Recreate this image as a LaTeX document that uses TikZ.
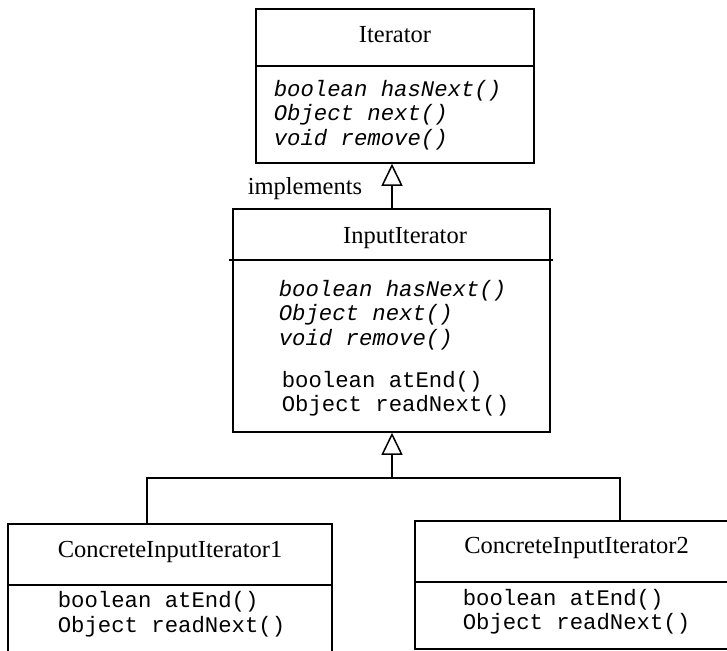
\documentclass[tikz,border=0pt]{standalone}
\usepackage{fontspec}
\setmainfont{Liberation Serif}
\setmonofont{Liberation Mono}
\usetikzlibrary{arrows.meta}
\begin{document}
\begin{tikzpicture}[x=1pt,y=-1pt,
  line width=1.5pt,
  box/.style={draw=black, line width=1.5pt, rectangle, inner sep=0pt},
  title/.style={inner sep=0pt, anchor=base, font=\fontsize{24.5}{28}\selectfont},
  meth/.style={inner sep=0pt, anchor=base west, font=\fontsize{22.3}{26}\selectfont\ttfamily},
  imeth/.style={meth, font=\fontsize{22.3}{26}\selectfont\ttfamily\itshape},
  gen/.style={-{Triangle[open,length=22pt,width=21pt,line width=1.5pt]}}]
\useasboundingbox (0,0) rectangle (727,650);

% Iterator
\node[box, minimum width=278pt, minimum height=154pt] (iter) at (395,86) {};
\draw (256,66) -- (534,66);
\node[title] (iterT) at (395,43) {Iterator};
\node[imeth] (iterM1) at (273,96) {boolean hasNext()};
\node[imeth] (iterM2) at (273,120.5) {Object next()};
\node[imeth] (iterM3) at (273,145) {void remove()};

% InputIterator
\node[box, minimum width=317pt, minimum height=223pt] (inp) at (391.5,320.5) {};
\draw (229,260) -- (553,260);
\node[title] (inpT) at (405,243) {InputIterator};
\node[imeth] (inpM1) at (278,296) {boolean hasNext()};
\node[imeth] (inpM2) at (278,320.5) {Object next()};
\node[imeth] (inpM3) at (278,345) {void remove()};
\node[meth] (inpM4) at (281,387) {boolean atEnd()};
\node[meth] (inpM5) at (281,411.5) {Object readNext()};

% ConcreteInputIterator1
\node[box, minimum width=324pt, minimum height=136pt] (c1) at (170,592) {};
\draw (7,585) -- (332,585);
\node[title] (c1T) at (170,557) {ConcreteInputIterator1};
\node[meth] (c1M1) at (57,607) {boolean atEnd()};
\node[meth] (c1M2) at (57,632) {Object readNext()};

% ConcreteInputIterator2
\node[box, minimum width=325pt, minimum height=128pt] (c2) at (577.5,585) {};
\draw (415,582) -- (740,582);
\node[title] (c2T) at (576.5,553) {ConcreteInputIterator2};
\node[meth] (c2M1) at (462,605) {boolean atEnd()};
\node[meth] (c2M2) at (462,629) {Object readNext()};

% implements
\node[title, anchor=base west] (impl) at (247,194) {implements};

% connectors
\coordinate (t) at (392,0);
\coordinate (dl) at (147,478);
\coordinate (dr) at (620,478);
\draw[gen] (t |- inp.north) -- (t |- iter.south);
\draw[gen] (t |- dl) -- (t |- inp.south);
\draw (dl |- c1.north) -- (dl) -- (dr) -- (dr |- c2.north);
\end{tikzpicture}
\end{document}
